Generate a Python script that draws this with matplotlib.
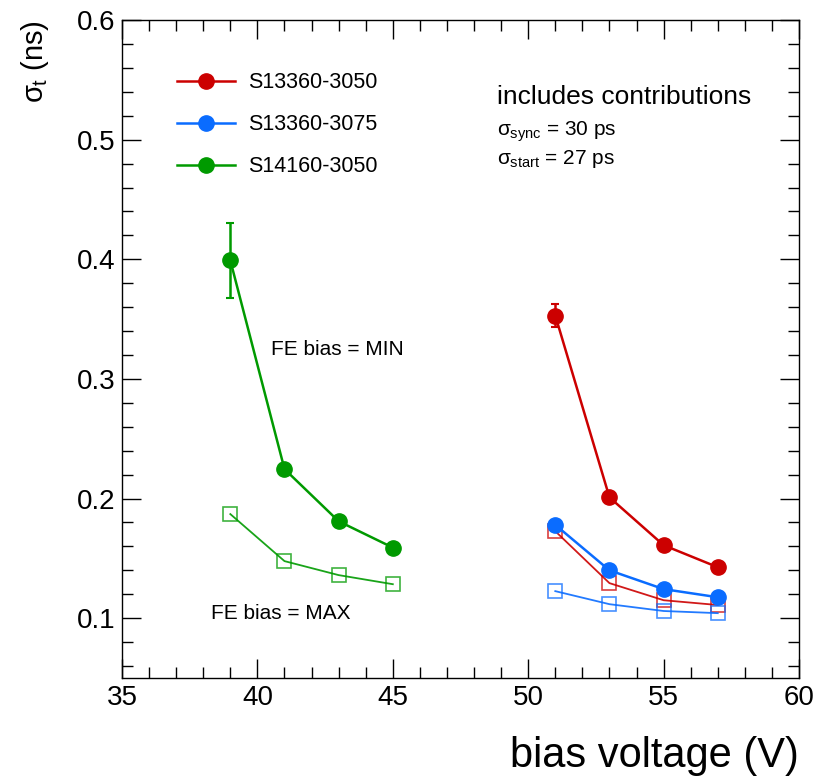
import matplotlib
matplotlib.use("Agg")
import matplotlib.pyplot as plt
from matplotlib.lines import Line2D
from matplotlib.ticker import MultipleLocator

plt.rcParams['font.family'] = ['Liberation Sans', 'DejaVu Sans']
plt.rcParams['mathtext.fontset'] = 'custom'
plt.rcParams['mathtext.rm'] = 'Liberation Sans'
plt.rcParams['mathtext.it'] = 'Liberation Sans'

# bias voltages
v_s13360 = [51, 53, 55, 57]
v_s14160 = [39, 41, 43, 45]

# FE bias = MIN (filled circles)
red_min = [0.353, 0.201, 0.161, 0.1426]
red_min_err = [0.010, 0.0, 0.0, 0.0]
blue_min = [0.178, 0.140, 0.1243, 0.1175]
green_min = [0.399, 0.2246, 0.181, 0.159]
green_min_err = [0.031, 0.0, 0.0, 0.0]

# FE bias = MAX (open squares)
red_max = [0.1727, 0.1293, 0.115, 0.111]
blue_max = [0.1226, 0.1117, 0.106, 0.1042]
green_max = [0.187, 0.1477, 0.136, 0.1284]

labels = ["S13360-3050", "S13360-3075", "S14160-3050"]
RED, BLUE, GREEN = "#cc0000", "#0a6cff", "#009a00"

fig = plt.figure(figsize=(8.2, 7.82), dpi=100)
ax = fig.add_axes([0.1488, 0.133, 0.8256, 0.8414])

def filled(x, y, err, c):
    ax.errorbar(x, y, yerr=err, color=c, marker='o', markersize=11,
                linewidth=1.8, elinewidth=1.8, capsize=3, capthick=1.5,
                zorder=3)

def opened(x, y, c):
    ax.plot(x, y, color=c, linewidth=1.3, alpha=0.9, zorder=2)
    ax.plot(x, y, linestyle='none', marker='s', markersize=10,
            markerfacecolor='none', markeredgecolor=c, markeredgewidth=1.2,
            alpha=0.75, zorder=2)

filled(v_s13360, red_min, red_min_err, RED)
filled(v_s13360, blue_min, None, BLUE)
filled(v_s14160, green_min, green_min_err, GREEN)
opened(v_s13360, red_max, RED)
opened(v_s13360, blue_max, BLUE)
opened(v_s14160, green_max, GREEN)

ax.set_xlim(35, 60)
ax.set_ylim(0.05, 0.6)
ax.xaxis.set_major_locator(MultipleLocator(5))
ax.xaxis.set_minor_locator(MultipleLocator(1))
ax.yaxis.set_major_locator(MultipleLocator(0.1))
ax.yaxis.set_minor_locator(MultipleLocator(0.02))
ax.tick_params(which='both', direction='in', top=True, right=True, width=1)
ax.tick_params(which='major', length=14, labelsize=20)
ax.tick_params(axis='x', which='major', pad=5)
ax.tick_params(axis='y', which='major', pad=5)
ax.tick_params(which='minor', length=8)
ax.yaxis.set_major_formatter(plt.FuncFormatter(lambda v, p: f"{v:.1f}"))
for s in ax.spines.values():
    s.set_linewidth(1)

ax.set_xlabel("bias voltage (V)", fontsize=30, loc='right', labelpad=18)
ax.set_ylabel(r"$\sigma_{t}$ (ns)", fontsize=21, loc='top', labelpad=18)

handles = [Line2D([], [], color=c, marker='o', markersize=11, linewidth=1.8)
           for c in (RED, BLUE, GREEN)]
ax.legend(handles, labels, loc='upper left', bbox_to_anchor=(0.052, 0.95),
          frameon=False, fontsize=15.5, handlelength=2.7, handletextpad=0.6,
          labelspacing=0.98, numpoints=1)

ax.text(48.85, 0.530, "includes contributions", fontsize=19, va='baseline')
ax.text(48.85, 0.503, r"$\sigma_{sync}$ = 30 ps", fontsize=15, va='baseline')
ax.text(48.85, 0.4796, r"$\sigma_{start}$ = 27 ps", fontsize=15, va='baseline')
ax.text(40.5, 0.320, "FE bias = MIN", fontsize=15, va='baseline')
ax.text(38.3, 0.0995, "FE bias = MAX", fontsize=15, va='baseline')

fig.savefig("out.png", dpi=100)
